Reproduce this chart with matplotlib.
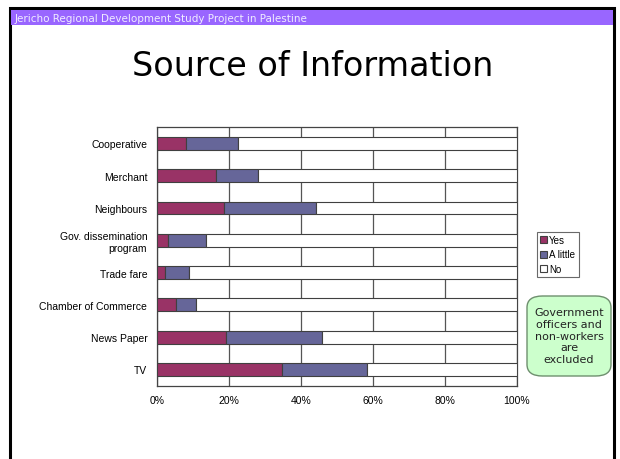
import matplotlib.pyplot as plt
from matplotlib.patches import Rectangle, FancyBboxPatch

# Source of information survey (percent of respondents)
categories = ["Cooperative", "Merchant", "Neighbours", "Gov. dissemination\nprogram",
              "Trade fare", "Chamber of Commerce", "News Paper", "TV"]
yes = [8.0, 16.5, 18.5, 3.1, 2.2, 5.4, 19.3, 34.7]
a_little = [14.6, 11.5, 25.8, 10.6, 6.8, 5.3, 26.6, 23.5]
no = [100 - y - a for y, a in zip(yes, a_little)]
series_names = ["Yes", "A little", "No"]
colors = ["#993366", "#666699", "#FFFFFF"]
xticks = [0, 20, 40, 60, 80, 100]

fig = plt.figure(figsize=(6.2, 4.6), dpi=100)
fig.patch.set_facecolor("white")

# slide frame and header band (drawn behind the axes)
fig.add_artist(Rectangle((10 / 620, -0.01), 604 / 620, 1 - 9 / 460 + 0.01,
                         transform=fig.transFigure, facecolor="white",
                         edgecolor="black", lw=2.2, zorder=-2))
fig.add_artist(Rectangle((11 / 620, 1 - 26 / 460), 602 / 620, 15 / 460,
                         transform=fig.transFigure, facecolor="#9966FF",
                         edgecolor="none", zorder=-1))
fig.text(15 / 620, 1 - 18.5 / 460, "Jericho Regional Development Study Project in Palestine",
         color="#F0ECFF", fontsize=7.5, va="center", ha="left", family="DejaVu Sans")

fig.text(313 / 620, 1 - 67 / 460, "Source of Information", fontsize=24,
         ha="center", va="center", family="DejaVu Sans", color="black")

ax = fig.add_axes([157 / 620, 1 - 386.5 / 460, 360 / 620, 258.2 / 460])
ypos = list(range(len(categories)))
left = [0] * len(categories)
for vals, name, c in zip([yes, a_little, no], series_names, colors):
    ax.barh(ypos, vals, left=left, height=0.4, color=c, edgecolor="#404040",
            lw=0.8, label=name, zorder=3)
    left = [l + v for l, v in zip(left, vals)]

ax.set_xlim(0, 100)
ax.set_ylim(len(categories) - 0.5, -0.5)
ax.set_xticks(xticks)
ax.set_xticklabels([f"{t}%" for t in xticks], fontsize=7.5, family="Liberation Sans")
ax.set_yticks(ypos)
ax.set_yticklabels(categories, fontsize=7.5, family="Liberation Sans")
ax.tick_params(length=0, pad=7)
ax.grid(axis="x", color="#555555", lw=0.9, zorder=0)
for s in ax.spines.values():
    s.set_color("#444444")
    s.set_linewidth(0.9)

leg = ax.legend(loc="center left", bbox_to_anchor=(537 / 620, 1 - 255.5 / 460),
                bbox_transform=fig.transFigure, fontsize=7, frameon=True,
                fancybox=False, edgecolor="#444444", handlelength=0.7,
                handleheight=0.7, handletextpad=0.2, borderpad=0.35,
                labelspacing=0.45, borderaxespad=0)
leg.get_frame().set_linewidth(0.8)
for t in leg.get_texts():
    t.set_family("Liberation Sans")

box = FancyBboxPatch((527 / 620, 1 - 377 / 460), 84 / 620, 80 / 460,
                     boxstyle="round,pad=0,rounding_size=0.025",
                     transform=fig.transFigure, facecolor="#CCFFCC",
                     edgecolor="#6E8F6E", lw=1.0)
fig.add_artist(box)
fig.text(569 / 620, 1 - 336.5 / 460,
         "Government\nofficers and\nnon-workers\nare\nexcluded",
         fontsize=8, ha="center", va="center", linespacing=1.2,
         family="DejaVu Sans", color="#222222")

fig.savefig("out.png", dpi=100)
